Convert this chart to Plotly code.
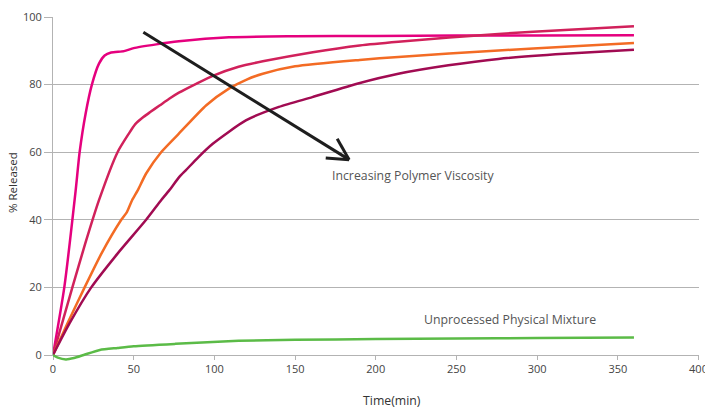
import plotly.graph_objects as go

# ---------------- data ----------------
pink_t = [0, 7, 14, 16.5, 20.2, 24.1, 28.5, 32, 36, 44, 50, 64, 78, 109, 150, 200, 250, 300, 360]
pink_v = [0, 20, 48.5, 60, 71.4, 80, 86.2, 88.6, 89.5, 89.9, 90.8, 91.9, 92.8, 94.0, 94.3, 94.4, 94.5, 94.5, 94.6]

crimson_t = [0, 12, 20, 28.5, 40, 47, 51, 56, 60, 66, 72, 78, 89, 99, 115, 130, 161, 190, 214, 276, 320, 360]
crimson_v = [0, 20, 33, 45.8, 60, 65.5, 68.3, 70.4, 71.8, 73.8, 75.8, 77.6, 80.3, 82.6, 85.3, 86.9, 89.6, 91.6, 92.7, 95.0, 96.2, 97.3]

orange_t = [0, 9, 19.6, 30, 42.3, 45.8, 49, 52.5, 57.7, 67, 78, 95, 109, 120, 130, 150, 190, 214, 276, 320, 360]
orange_v = [0, 9.4, 20, 30, 40, 42.3, 45.8, 48.7, 53.7, 60, 65.5, 73.9, 78.8, 81.5, 83.2, 85.4, 87.3, 88.2, 90.1, 91.3, 92.3]

purple_t = [0, 10.3, 23.7, 40, 57.7, 67, 72, 78.3, 82.4, 90, 99, 119.5, 140, 160.7, 189.6, 214, 245, 276, 317, 360]
purple_v = [0, 9.4, 20, 30, 40, 45.8, 48.7, 52.7, 54.7, 58.5, 62.5, 69.4, 73.4, 76.3, 80.4, 83.2, 85.7, 87.6, 89.1, 90.3]

green_t = [0, 3, 8, 13, 19, 29, 40, 50, 76, 115, 150, 200, 250, 300, 360]
green_v = [0, -0.8, -1.3, -0.9, 0, 1.5, 2.1, 2.6, 3.3, 4.2, 4.5, 4.7, 4.9, 5.0, 5.2]

x_ticks = [0, 50, 100, 150, 200, 250, 300, 350, 400]
y_ticks = [0, 20, 40, 60, 80, 100]

arrow_start = (56, 95.5)
arrow_end = (183.5, 57.8)
arrow_head_a = (176.1, 64.0)
arrow_head_b = (169.0, 58.3)

label_viscosity = ("Increasing Polymer Viscosity", 171.5, 53.2)
label_mixture = ("Unprocessed Physical Mixture", 228.7, 10.6)

# ---------------- figure ----------------
FONT = "Open Sans"
W, H = 705, 408
ML, MR, MT, MB = 53, 6, 17, 46
EXTRA = 7  # px below y=0 for the second (unclipped) subplot
plot_h = H - MT - MB
main_h = plot_h - EXTRA
px_per_unit = main_h / 100.0
X_MAX = 400.3

fig = go.Figure()

series = [
    (pink_t, pink_v, "#E5007E"),
    (crimson_t, crimson_v, "#D1215B"),
    (orange_t, orange_v, "#F36B24"),
    (purple_t, purple_v, "#A10B52"),
]
for t, v, c in series:
    fig.add_trace(go.Scatter(x=t, y=v, mode="lines",
                             line=dict(color=c, width=2.5, shape="spline", smoothing=0.6),
                             showlegend=False, hoverinfo="skip"))

fig.add_trace(go.Scatter(x=green_t, y=green_v, mode="lines", xaxis="x2", yaxis="y2",
                         line=dict(color="#5BBB47", width=2.5, shape="spline", smoothing=0.6),
                         showlegend=False, hoverinfo="skip"))

grey = "#b3b3b3"
fig.update_layout(
    width=W, height=H,
    margin=dict(l=ML, r=MR, t=MT, b=MB, autoexpand=False),
    paper_bgcolor="white", plot_bgcolor="rgba(0,0,0,0)",
    font=dict(family=FONT, size=11, color="#444"),
    xaxis=dict(range=[0, X_MAX], tickvals=x_ticks, ticks="outside", ticklen=4, tickcolor=grey,
               showline=True, linecolor=grey, linewidth=1, showgrid=False, zeroline=False,
               tickfont=dict(size=11, color="#444"), anchor="y", domain=[0, 1], automargin=False,
               ticklabeloverflow="allow"),
    yaxis=dict(range=[0, 100], tickvals=y_ticks, ticks="outside", ticklen=8, tickcolor=grey,
               showline=True, linecolor=grey, linewidth=1, showgrid=True, gridcolor=grey,
               gridwidth=1, zeroline=False, tickfont=dict(size=11, color="#444"),
               domain=[EXTRA / plot_h, 1], anchor="x", automargin=False),
    xaxis2=dict(range=[0, X_MAX], visible=False, anchor="y2", domain=[0, 1], automargin=False),
    yaxis2=dict(range=[-EXTRA / px_per_unit, 100], visible=False, anchor="x2", domain=[0, 1],
                automargin=False),
)

# arrow
for (a, b) in [(arrow_start, arrow_end), (arrow_end, arrow_head_a), (arrow_end, arrow_head_b)]:
    fig.add_shape(type="line", xref="x", yref="y", x0=a[0], y0=a[1], x1=b[0], y1=b[1],
                  line=dict(color="#1e1e1e", width=3))

for text, x, y in [label_viscosity, label_mixture]:
    fig.add_annotation(text=text, x=x, y=y, xref="x", yref="y", xanchor="left", yanchor="middle",
                       showarrow=False, font=dict(family=FONT, size=12.3, color="#555"))

# axis titles
plot_w = W - ML - MR
fig.add_annotation(text="Time(min)", xref="paper", yref="paper",
                   x=(392 - ML) / plot_w, y=-(400 - (H - MB)) / plot_h,
                   xanchor="center", yanchor="middle", showarrow=False,
                   font=dict(family=FONT, size=12.3, color="#333"))
fig.add_annotation(text="% Released", xref="paper", yref="paper", textangle=-90,
                   x=(12 - ML) / plot_w, y=((H - MB) - 183) / plot_h,
                   xanchor="center", yanchor="middle", showarrow=False,
                   font=dict(family=FONT, size=11.5, color="#333"))

fig.write_html("out.html", config={"displayModeBar": False, "staticPlot": True},
               post_script="document.body.style.margin='0';document.body.style.overflow='hidden';")
